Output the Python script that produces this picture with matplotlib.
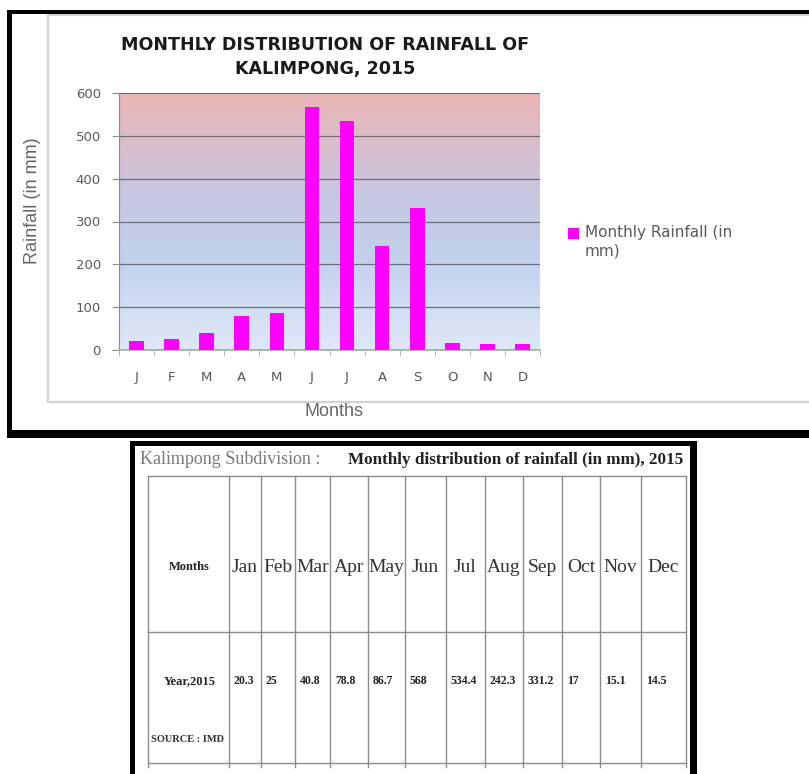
import numpy as np
import matplotlib
matplotlib.use("Agg")
import matplotlib.pyplot as plt
from matplotlib.patches import Rectangle
from matplotlib.colors import LinearSegmentedColormap

# ---- data ----
month_initials = ["J", "F", "M", "A", "M", "J", "J", "A", "S", "O", "N", "D"]
month_names = ["Jan", "Feb", "Mar", "Apr", "May", "Jun",
               "Jul", "Aug", "Sep", "Oct", "Nov", "Dec"]
rainfall_mm = [20.3, 25, 40.8, 78.8, 86.7, 568, 534.4, 242.3, 331.2, 17, 15.1, 14.5]
y_ticks = [0, 100, 200, 300, 400, 500, 600]

chart_title = "MONTHLY DISTRIBUTION OF RAINFALL OF\nKALIMPONG, 2015"
y_label = "Rainfall (in mm)"
x_label = "Months"
series_label = "Monthly Rainfall (in\nmm)"
table_caption = "Kalimpong Subdivision :"
table_title = "Monthly distribution of rainfall (in mm), 2015"
row_header = "Months"
row_label = "Year,2015"
source_note = "SOURCE : IMD"

BAR_COLOR = "#ff00ff"
W, H = 809, 774

fig = plt.figure(figsize=(W / 100, H / 100), dpi=100)
fig.patch.set_facecolor("white")

# full-figure layer in pixel units (y grows downward)
bg = fig.add_axes([0, 0, 1, 1])
bg.set_xlim(0, W)
bg.set_ylim(H, 0)
bg.axis("off")


def px_rect(x0, y0, x1, y1):
    return [x0 / W, 1 - y1 / H, (x1 - x0) / W, (y1 - y0) / H]


def block(x0, y0, x1, y1, color="black", **kw):
    bg.add_patch(Rectangle((x0, y0), x1 - x0, y1 - y0, facecolor=color,
                           edgecolor="none", **kw))


# ---- upper panel: chart frame ----
bg.add_patch(Rectangle((48, 15), 800, 387, facecolor="white",
                       edgecolor="#d2d2d2", lw=1.6))
block(7, 10, 809, 14)
block(7, 10, 12, 438)
block(7, 430, 809, 438)

ax = fig.add_axes(px_rect(119, 93, 540, 350))
ax.set_xlim(-0.5, 11.5)
ax.set_ylim(0, 600)

# pink-to-blue plot-area fill
grad_cmap = LinearSegmentedColormap.from_list(
    "plotfill",
    [(0.0, (0.875, 0.91, 0.97)),
     (0.35, (0.76, 0.82, 0.93)),
     (0.6, (0.78, 0.78, 0.88)),
     (1.0, (0.92, 0.71, 0.71))])
grad = np.linspace(0, 1, 256).reshape(-1, 1)
ax.imshow(grad, extent=[-0.5, 11.5, 0, 600], aspect="auto", cmap=grad_cmap,
          origin="lower", zorder=0)

ax.bar(range(len(rainfall_mm)), rainfall_mm, width=0.42, color=BAR_COLOR,
       zorder=3)

ax.set_yticks(y_ticks)
ax.yaxis.grid(True, color="#6f6f7a", lw=0.9, zorder=1)
ax.set_axisbelow(True)
ax.set_xticks(range(len(month_initials)))
ax.set_xticklabels(month_initials)
ax.set_xticks(np.arange(-0.5, 12, 1), minor=True)
ax.tick_params(axis="x", which="major", length=0, pad=15,
               labelsize=9.5, labelcolor="#555555")
ax.tick_params(axis="x", which="minor", length=4, color="#9fb09f")
ax.tick_params(axis="y", length=5, color="#8a8a8a", pad=8,
               labelsize=9.5, labelcolor="#5a5a5a")
for s in ("top", "right"):
    ax.spines[s].set_visible(False)
ax.spines["left"].set_color("#8a8a8a")
ax.spines["bottom"].set_color("#9fb09f")
ax.spines["bottom"].set_linewidth(1.2)

bg.text(325, 57, chart_title, ha="center", va="center", fontsize=12.6,
        fontweight="bold", family="DejaVu Sans", color="#1a1a1a",
        linespacing=1.4)
bg.text(33, 201, y_label, rotation=90, ha="center", va="center",
        fontsize=13, color="#666666", family="Liberation Sans")
bg.text(334, 412, x_label, ha="center", va="center",
        fontsize=13, color="#666666", family="Liberation Sans")

# series key
bg.add_patch(Rectangle((568, 228), 11, 11, facecolor=BAR_COLOR,
                       edgecolor="none"))
bg.text(585, 225, series_label, ha="left", va="top", fontsize=11,
        color="#5a5a5a", linespacing=1.3)

# ---- lower panel: rainfall table ----
block(130, 441, 697, 446)
block(130, 441, 135, 774)
block(690, 441, 697, 774)

col_edges = [148, 229, 261, 295, 330, 368, 405, 446, 485, 523, 562, 600, 641, 686]
row_edges = [476, 632, 763]
grid_kw = dict(color="#8c8c8c", lw=1.0)
for y in row_edges:
    bg.plot([col_edges[0], col_edges[-1]], [y, y], **grid_kw)
for x in col_edges:
    bg.plot([x, x], [row_edges[0], row_edges[-1] + 4], **grid_kw)

bg.text(140, 460, table_caption, ha="left", va="center", fontsize=13,
        family="Liberation Serif", color="#7a7a7a")
bg.text(348, 460, table_title, ha="left", va="center", fontsize=12.3,
        family="Liberation Serif", fontweight="bold", color="#222222")

bg.text(189, 567, row_header, ha="center", va="center", fontsize=9,
        family="Liberation Serif", fontweight="bold", color="#222222")
bg.text(190, 681, row_label, ha="center", va="center", fontsize=9,
        family="Liberation Serif", fontweight="bold", color="#222222")
bg.text(188, 740, source_note, ha="center", va="center", fontsize=7.5,
        family="Liberation Serif", fontweight="bold", color="#333333")

for i, name in enumerate(month_names):
    cx = (col_edges[i + 1] + col_edges[i + 2]) / 2
    bg.text(cx, 568, name, ha="center", va="center", fontsize=14,
            family="Liberation Serif", color="#333333")
    bg.text(col_edges[i + 1] + 5, 681, f"{rainfall_mm[i]:g}", ha="left",
            va="center", fontsize=8.5, family="Liberation Serif",
            fontweight="bold", color="#222222")

fig.savefig("out.png", dpi=100, facecolor="white")
